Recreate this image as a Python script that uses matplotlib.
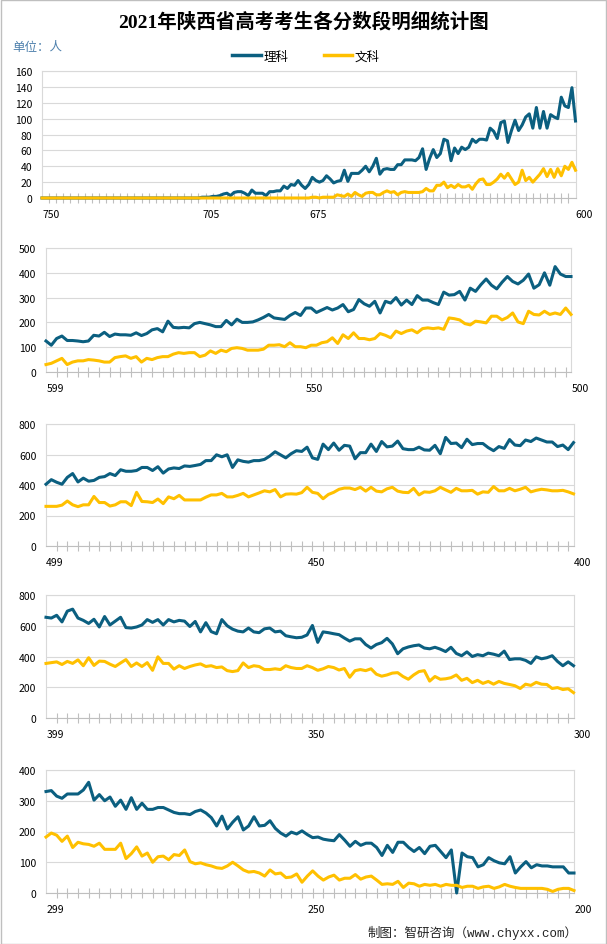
import numpy as np
import matplotlib
matplotlib.use("Agg")
import matplotlib.pyplot as plt
import matplotlib.transforms as mtransforms
from matplotlib.patches import Rectangle
from matplotlib.lines import Line2D

plt.rcParams['font.family'] = ['Noto Sans CJK SC', 'DejaVu Sans']

# ---------------------------------------------------------------
# data: number of candidates per score (理科 = science, 文科 = arts)
# ---------------------------------------------------------------
scores_1 = list(range(750, 599, -1))
scores_2 = list(range(599, 499, -1))
scores_3 = list(range(499, 399, -1))
scores_4 = list(range(399, 299, -1))
scores_5 = list(range(299, 199, -1))

like_1 = [0, 0, 0, 0, 0, 0, 0, 0, 0, 0, 0, 0, 0, 0, 0, 0, 0, 0, 0, 0,
          0, 0, 0, 0, 0, 0, 0, 0, 0, 0, 0, 0, 0, 0, 0, 0, 0, 0, 0, 0,
          0, 0, 0, 0, 0,
          1, 1, 1, 2, 2, 3, 5, 6, 3, 7, 8, 8, 6, 3, 10, 6, 6, 6, 3, 8,
          8, 9, 9, 15, 12, 17, 16, 22, 16, 12, 17, 26, 22, 20, 22, 28, 24, 19, 21, 22,
          35, 21, 31, 31, 31, 35, 40, 33, 40, 50, 30, 36, 37, 36, 36, 42, 42, 48, 48, 48,
          47, 51, 62, 36, 50, 61, 51, 56, 74, 72, 47, 63, 56, 64, 61, 64, 74, 70, 74, 74,
          73, 88, 84, 75, 95, 97, 70, 85, 98, 85, 92, 102, 106, 88, 114, 88, 109, 88, 105, 102,
          100, 127, 116, 114, 139, 97]
wenke_1 = [0, 0, 0, 0, 0, 0, 0, 0, 0, 0, 0, 0, 0, 0, 0, 0, 0, 0, 0, 0,
           0, 0, 0, 0, 0, 0, 0, 0, 0, 0, 0, 0, 0, 0, 0, 0, 0, 0, 0, 0,
           0, 0, 0, 0, 0, 0, 0, 0, 0, 0, 0, 0, 0, 0, 0, 0, 0, 0, 0, 0,
           0, 0, 0, 0, 0, 0, 0, 0, 0, 0, 0, 0, 0, 0, 0, 0,
           1, 1, 0, 1, 1, 1, 1, 4, 3, 2, 5, 2, 7, 4, 2, 6, 7, 7, 4, 4,
           7, 9, 7, 8, 4, 7, 8, 7, 7, 7, 7, 8, 12, 9, 9, 16, 16, 20, 13, 16,
           13, 17, 14, 14, 16, 11, 18, 23, 24, 17, 17, 20, 24, 30, 25, 31, 24, 17, 20, 35,
           22, 26, 20, 25, 30, 37, 27, 36, 26, 37, 28, 40, 36, 45, 35]

like_2 = [125, 108, 135, 145, 127, 127, 125, 122, 125, 148, 145, 160, 143, 153, 150, 150, 148, 158, 147, 155,
          170, 175, 162, 205, 180, 178, 180, 178, 195, 200, 195, 190, 183, 183, 208, 190, 213, 200, 200, 202,
          210, 220, 232, 218, 215, 212, 228, 240, 228, 258, 258, 240, 250, 260, 250, 258, 272, 243, 252, 292,
          275, 265, 285, 238, 285, 278, 300, 270, 290, 272, 308, 290, 290, 280, 272, 322, 310, 312, 325, 290,
          338, 325, 352, 375, 350, 335, 362, 385, 365, 355, 370, 395, 338, 352, 400, 350, 425, 395, 385, 385]
wenke_2 = [30, 35, 45, 55, 30, 40, 45, 45, 50, 48, 45, 40, 40, 58, 62, 65, 55, 62, 40, 55,
           50, 58, 62, 62, 72, 78, 75, 78, 78, 62, 68, 85, 75, 88, 82, 95, 98, 95, 88, 88,
           88, 92, 108, 108, 110, 102, 118, 102, 102, 98, 108, 108, 118, 122, 138, 115, 150, 135, 158, 135,
           135, 130, 135, 155, 148, 138, 165, 155, 165, 170, 158, 175, 178, 175, 178, 172, 218, 215, 210, 195,
           190, 205, 202, 198, 225, 225, 210, 220, 238, 202, 195, 245, 232, 230, 245, 232, 238, 232, 258, 232]

like_3 = [405, 435, 418, 405, 450, 475, 420, 445, 425, 430, 450, 455, 475, 462, 500, 490, 490, 495, 515, 515,
          495, 520, 478, 505, 512, 508, 525, 522, 528, 535, 560, 560, 598, 585, 598, 515, 565, 555, 550, 560,
          560, 568, 590, 618, 598, 578, 605, 625, 620, 648, 578, 568, 668, 632, 675, 628, 660, 655, 572, 612,
          612, 668, 620, 685, 650, 655, 688, 638, 632, 632, 648, 630, 628, 660, 605, 712, 672, 675, 645, 700,
          665, 672, 672, 645, 625, 652, 640, 698, 662, 658, 695, 685, 708, 695, 682, 682, 652, 662, 632, 678]
wenke_3 = [260, 260, 260, 268, 295, 270, 258, 270, 270, 325, 285, 285, 262, 270, 290, 290, 265, 352, 292, 290,
           285, 308, 278, 322, 310, 332, 302, 302, 302, 302, 320, 335, 335, 345, 322, 322, 332, 345, 322, 335,
           348, 362, 355, 370, 322, 340, 342, 340, 350, 385, 352, 345, 310, 338, 352, 372, 380, 380, 370, 385,
           360, 385, 360, 355, 375, 385, 360, 352, 350, 378, 335, 355, 352, 362, 385, 368, 352, 378, 362, 362,
           365, 340, 355, 352, 390, 362, 362, 378, 362, 372, 385, 355, 365, 372, 368, 362, 362, 365, 355, 342]

like_4 = [655, 650, 668, 625, 695, 708, 650, 635, 615, 642, 592, 660, 605, 630, 655, 588, 585, 592, 605, 640,
          622, 640, 605, 640, 625, 635, 630, 595, 628, 560, 620, 562, 548, 640, 600, 578, 565, 560, 585, 560,
          555, 580, 585, 560, 565, 535, 528, 522, 525, 540, 602, 492, 560, 555, 548, 542, 520, 500, 515, 515,
          478, 455, 478, 490, 518, 482, 418, 450, 462, 470, 475, 455, 450, 460, 448, 432, 460, 420, 405, 430,
          400, 412, 405, 422, 415, 405, 435, 380, 385, 385, 375, 355, 398, 385, 392, 405, 368, 340, 365, 340]
wenke_4 = [355, 360, 365, 348, 368, 355, 378, 340, 392, 342, 370, 368, 350, 335, 358, 380, 335, 358, 335, 360,
           310, 398, 355, 355, 318, 340, 322, 335, 345, 352, 335, 340, 328, 332, 308, 302, 308, 358, 328, 340,
           335, 315, 315, 320, 315, 340, 328, 322, 322, 340, 328, 310, 320, 335, 328, 312, 322, 265, 308, 315,
           308, 320, 285, 272, 280, 292, 295, 270, 252, 280, 302, 308, 240, 270, 252, 255, 262, 280, 245, 258,
           230, 245, 225, 238, 220, 238, 225, 218, 210, 192, 220, 212, 232, 220, 218, 192, 198, 185, 190, 165]

like_5 = [330, 333, 315, 308, 322, 322, 322, 335, 360, 302, 320, 300, 312, 282, 302, 272, 310, 272, 292, 272,
          272, 278, 278, 270, 262, 258, 258, 255, 265, 270, 260, 245, 218, 250, 208, 230, 248, 205, 218, 248,
          218, 220, 235, 210, 195, 185, 198, 192, 202, 190, 180, 182, 175, 172, 170, 190, 172, 152, 168, 155,
          162, 162, 148, 122, 155, 132, 165, 165, 148, 135, 148, 128, 152, 155, 135, 115, 140, 0, 130, 118,
          115, 85, 92, 115, 105, 98, 95, 118, 65, 85, 102, 82, 92, 88, 88, 85, 85, 85, 65, 65]
wenke_5 = [182, 195, 188, 168, 185, 148, 165, 160, 158, 152, 162, 142, 142, 142, 162, 112, 128, 150, 120, 130,
           100, 118, 120, 108, 125, 122, 140, 102, 95, 98, 92, 88, 82, 80, 88, 100, 88, 75, 68, 70,
           65, 55, 75, 62, 65, 50, 52, 62, 35, 55, 72, 55, 42, 52, 58, 42, 48, 48, 60, 45,
           52, 55, 42, 28, 30, 28, 38, 18, 32, 30, 22, 28, 25, 28, 22, 28, 25, 25, 18, 22,
           22, 15, 20, 22, 15, 20, 28, 22, 18, 15, 15, 15, 15, 15, 12, 5, 12, 15, 15, 8]

panels = [
    (scores_1, like_1, wenke_1, 160, 20, [750, 705, 675, 600]),
    (scores_2, like_2, wenke_2, 500, 100, [599, 550, 500]),
    (scores_3, like_3, wenke_3, 800, 200, [499, 450, 400]),
    (scores_4, like_4, wenke_4, 800, 200, [399, 350, 300]),
    (scores_5, like_5, wenke_5, 400, 100, [299, 250, 200]),
]

# axes boxes in pixels (left, right, top, bottom) of a 607x945 picture
boxes = [(42, 575.5, 72, 199),
         (46, 571, 249, 373),
         (46, 573.5, 425, 547),
         (46, 573.5, 596, 719),
         (46, 574, 771, 894)]

W, H = 607, 945
blue = '#0b5f80'
yellow = '#ffc000'
grid_c = '#d9d9d9'

fig = plt.figure(figsize=(W / 100, H / 100), dpi=100)

for (sc, li, wen, ymax, ystep, labs), (l, r, t, b) in zip(panels, boxes):
    ax = fig.add_axes([l / W, 1 - b / H, (r - l) / W, (b - t) / H])
    x = np.arange(len(sc))
    ax.plot(x, li, color=blue, lw=2.2, clip_on=False, solid_joinstyle='round', zorder=3)
    ax.plot(x, wen, color=yellow, lw=2.2, clip_on=False, solid_joinstyle='round', zorder=4)
    ax.set_xlim(0, len(sc) - 1)
    ax.set_ylim(0, ymax)
    ax.set_yticks(np.arange(0, ymax + 1, ystep))
    ax.yaxis.grid(True, color=grid_c, lw=0.8)
    ax.set_axisbelow(True)
    ax.tick_params(axis='y', length=0, labelsize=7.5, pad=7, colors='#000000')
    # category ticks every 2 scores
    ax.set_xticks(np.arange(0, len(sc), 2), minor=True)
    ax.set_xticks([sc.index(s) for s in labs])
    ax.set_xticklabels([str(s) for s in labs])
    ax.tick_params(axis='x', which='minor', direction='inout', length=6.5, width=0.8, color='#bfbfbf')
    ax.tick_params(axis='x', which='major', length=0, labelsize=7.5, pad=8)
    off = mtransforms.ScaledTranslation(9 / 100, 0, fig.dpi_scale_trans)
    for lab in ax.get_xticklabels():
        lab.set_transform(lab.get_transform() + off)
    for side in ['top', 'right', 'left']:
        ax.spines[side].set_color(grid_c)
        ax.spines[side].set_linewidth(0.8)
    ax.spines['bottom'].set_color('#bfbfbf')
    ax.spines['bottom'].set_linewidth(0.8)

fig.text(0.5, 1 - 22 / H, '2021年陕西省高考考生各分数段明细统计图', ha='center', va='center',
         fontsize=14, fontweight='bold', family=['Liberation Serif', 'Noto Sans CJK SC'])
fig.text(12 / W, 1 - 47 / H, '单位：人', ha='left', va='center', fontsize=9, color='#4f81ad')

# legend
handles = [Line2D([], [], color=blue, lw=2.5), Line2D([], [], color=yellow, lw=2.5)]
fig.legend(handles, ['理科', '文科'], loc='center', bbox_to_anchor=(306 / W, 1 - 57 / H),
           ncol=2, frameon=False, fontsize=9, handlelength=2.3, handletextpad=0.2, columnspacing=2.8)

fig.text(578 / W, 1 - 933 / H, '制图：智研咨询（www.chyxx.com）', ha='right', va='center',
         fontsize=9, color='#222222', family=['Liberation Mono', 'Noto Sans CJK SC'])

fig.patches.append(Rectangle((0.5 / W, 0.5 / H), 1 - 1.5 / W, 1 - 1.5 / H, transform=fig.transFigure,
                             fill=False, edgecolor='#bfbfbf', lw=1))

fig.savefig('out.png', dpi=100)
